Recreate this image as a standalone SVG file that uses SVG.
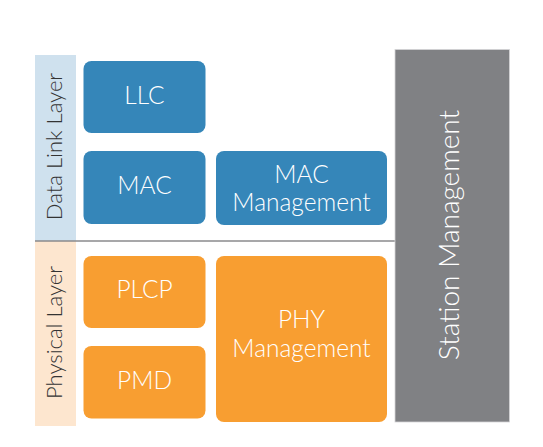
<svg xmlns="http://www.w3.org/2000/svg" width="543" height="447" viewBox="0 0 543 447">
<style>
.blue{fill:#3586b9}
.orange{fill:#f89e31}
.lbl{font-family:Lato,"Liberation Sans",Arial,sans-serif;font-weight:300;font-size:24.5px;fill:#ffffff;text-anchor:middle}
.side{font-family:Lato,"Liberation Sans",Arial,sans-serif;font-weight:300;font-size:22px;fill:#333333;text-anchor:middle}
</style>
<rect width="543" height="447" fill="#ffffff"/>
<g id="data-link-layer">
<rect x="35" y="55" width="41" height="186" fill="#cfe1ee"/>
<text class="side" transform="translate(62,146.5) rotate(-90)">Data Link Layer</text>
</g>
<g id="physical-layer">
<rect x="35" y="241" width="41" height="185" fill="#fde6cf"/>
<text class="side" transform="translate(62,332.5) rotate(-90)">Physical Layer</text>
</g>
<g id="connectors">
<line x1="35" y1="241" x2="395" y2="241" stroke="#8a8a8c" stroke-width="1.5"/>
</g>
<g id="llc">
<rect class="blue" x="83.5" y="61" width="122" height="72" rx="8"/>
<text class="lbl" x="144.5" y="104">LLC</text>
</g>
<g id="mac">
<rect class="blue" x="83.5" y="151" width="122" height="73" rx="8"/>
<text class="lbl" x="144.5" y="194">MAC</text>
</g>
<g id="mac-management">
<rect class="blue" x="216" y="151" width="171" height="74" rx="8"/>
<text class="lbl" x="301.5" y="182.7">MAC</text>
<text class="lbl" x="301.5" y="211">Management</text>
</g>
<g id="plcp">
<rect class="orange" x="83.5" y="256" width="122" height="72" rx="8"/>
<text class="lbl" x="144.5" y="298.3">PLCP</text>
</g>
<g id="pmd">
<rect class="orange" x="83.5" y="346" width="122" height="72.5" rx="8"/>
<text class="lbl" x="144.5" y="389.3">PMD</text>
</g>
<g id="phy-management">
<rect class="orange" x="216" y="256" width="171" height="166" rx="8"/>
<text class="lbl" x="301.5" y="327.7">PHY</text>
<text class="lbl" x="301.5" y="356.5">Management</text>
</g>
<g id="station-management">
<rect x="395" y="49.5" width="114.5" height="372.5" fill="#808184" stroke="#d4d4d6" stroke-width="0.8"/>
<text class="lbl" style="font-size:28px" transform="translate(458.5,235) rotate(-90)">Station Management</text>
</g>
</svg>
